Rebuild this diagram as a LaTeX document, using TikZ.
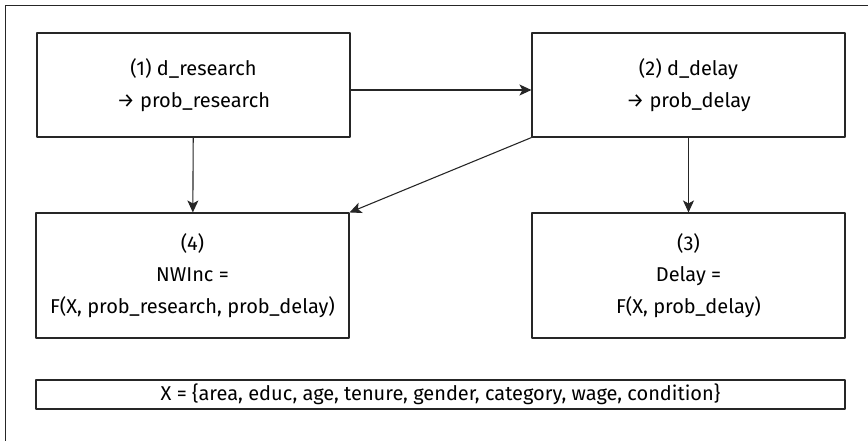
\documentclass[tikz,border=0pt]{standalone}
\usepackage{fontspec}
\setmainfont{Fira Sans}
\usepackage{tikz}
\usetikzlibrary{positioning,arrows.meta}

\tikzset{
  stage/.style={draw=black!85, line width=1.1pt, minimum width=313pt,
    align=center, inner sep=0pt, font=\fontsize{20}{31.5}\selectfont},
  link/.style={draw=black!85, line width=1.1pt,
    -{Stealth[length=12pt,width=11pt,inset=3pt]}}
}

\begin{document}
\begin{tikzpicture}[
    x=1pt,y=-1pt,
    line cap=round,line join=round
  ]
  % ---- page and frame
  \useasboundingbox (0,0) rectangle (868,440);
  \clip (0,0) rectangle (868,440);
  \draw[black!85, line width=1.3pt] (5.5,5.5) rectangle (900,470);

  % ---- stages
  \node[stage, minimum height=104pt] (research) at (193.5,85)
    {(1) d\_research\\→ prob\_research};
  \node[stage, minimum height=104pt] (delay) at (688.5,85)
    {(2) d\_delay\\→ prob\_delay};
  \node[stage, minimum height=125pt] (nwinc) at (192.5,275.5)
    {(4)\\NWInc =\\F(X, prob\_research, prob\_delay)};
  \node[stage, minimum height=125pt] (delayeq) at (688.5,275.5)
    {(3)\\Delay =\\F(X, prob\_delay)};

  % covariates
  \node[stage, minimum width=809pt, minimum height=29pt] (covars) at (440.5,394.5)
    {X = \{area, educ, age, tenure, gender, category, wage, condition\}};

  % ---- links
  \draw[link] ([yshift=-5pt]research.east) -- ([yshift=-5pt]delay.west);
  \draw[link] (research) -- (nwinc);
  \draw[link] (delay) -- (delayeq);
  \draw[link] (delay.south west) -- (nwinc.north east);
\end{tikzpicture}
\end{document}
